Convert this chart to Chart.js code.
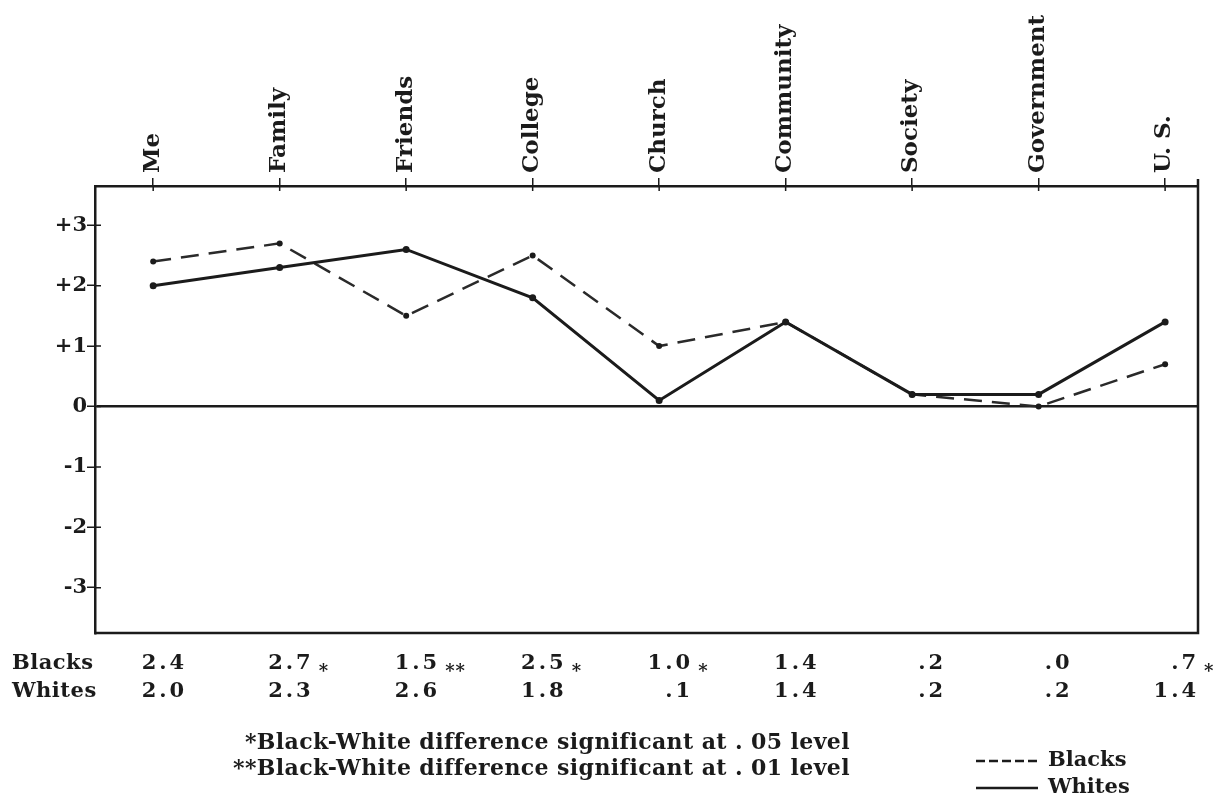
<!DOCTYPE html>
<html>
<head>
<meta charset="utf-8">
<title>Black and White ratings by target</title>
<script src="https://cdn.jsdelivr.net/npm/chart.js@4.4.1/dist/chart.umd.min.js"></script>
<style>
  html, body { margin: 0; padding: 0; background: #fff; }
  #chart { display: block; }
</style>
</head>
<body>
<canvas id="chart" width="1226" height="799"></canvas>
<script>
const categories = ['Me', 'Family', 'Friends', 'College', 'Church', 'Community', 'Society', 'Government', 'U. S.'];
const blacks = [2.4, 2.7, 1.5, 2.5, 1.0, 1.4, 0.2, 0.0, 0.7];
const whites = [2.0, 2.3, 2.6, 1.8, 0.1, 1.4, 0.2, 0.2, 1.4];
const significance = ['', '*', '**', '*', '*', '', '', '', '*'];
const yTicks = [-3, -2, -1, 0, 1, 2, 3];
const footnotes = [
    '*Black-White difference significant at . 05 level',
    '**Black-White difference significant at . 01 level'
];

const INK = '#1b1b1b';
const SERIF = '"DejaVu Serif", serif';

Chart.defaults.font.family = SERIF;
Chart.defaults.color = INK;

// "2.0" -> "2.0", "0.2" -> ".2"
const fmt = (v) => {
    const s = v.toFixed(1);
    return v >= 0 && v < 1 ? s.slice(1) : s;
};

const toPoints = (arr) => arr.map((v, i) => ({ x: i, y: v }));

// Marco, tabla de valores, notas y leyenda
const annotate = {
    id: 'annotate',
    afterDraw(chart) {
        const { ctx, chartArea: a, scales: { x, y } } = chart;
        ctx.save();

        // lado derecho e inferior del marco
        ctx.strokeStyle = INK;
        ctx.lineWidth = 2.5;
        ctx.beginPath();
        ctx.moveTo(a.right, a.top - 7);
        ctx.lineTo(a.right, a.bottom);
        ctx.lineTo(a.left, a.bottom);
        ctx.stroke();

        // mitad interior de las marcas
        ctx.lineWidth = 1.5;
        ctx.beginPath();
        yTicks.forEach(v => {
            const py = y.getPixelForValue(v);
            ctx.moveTo(a.left, py);
            ctx.lineTo(a.left + 6, py);
        });
        categories.forEach((c, i) => {
            const px = x.getPixelForValue(i);
            ctx.moveTo(px, a.top);
            ctx.lineTo(px, a.top + 5);
        });
        ctx.stroke();

        // tabla
        const row1 = a.bottom + 31;
        const row2 = a.bottom + 59;
        ctx.fillStyle = INK;
        ctx.textBaseline = 'middle';
        ctx.font = 'bold 21px ' + SERIF;
        ctx.textAlign = 'left';
        ctx.letterSpacing = '0.5px';
        ctx.fillText('Blacks', 12, row1);
        ctx.fillText('Whites', 12, row2);

        categories.forEach((c, i) => {
            const px = x.getPixelForValue(i) + 34;
            ctx.font = 'bold 21px ' + SERIF;
            ctx.letterSpacing = '3px';
            ctx.textAlign = 'right';
            ctx.fillText(fmt(blacks[i]), px, row1);
            ctx.fillText(fmt(whites[i]), px, row2);
            if (significance[i]) {
                ctx.letterSpacing = '1px';
                ctx.font = 'bold 18px ' + SERIF;
                ctx.textAlign = 'left';
                ctx.fillText(significance[i], px + 5, row1 + 8);
            }
        });

        // notas
        ctx.font = 'bold 22px ' + SERIF;
        ctx.letterSpacing = '0.4px';
        ctx.textAlign = 'right';
        ctx.fillText(footnotes[0], 850, a.bottom + 110);
        ctx.fillText(footnotes[1], 850, a.bottom + 136);
        ctx.letterSpacing = '0px';

        // leyenda
        const lx = 976, lw = 62;
        const ly1 = a.bottom + 128, ly2 = a.bottom + 155;
        ctx.lineWidth = 2.5;
        ctx.setLineDash([9, 4]);
        ctx.beginPath();
        ctx.moveTo(lx, ly1);
        ctx.lineTo(lx + lw, ly1);
        ctx.stroke();
        ctx.setLineDash([]);
        ctx.beginPath();
        ctx.moveTo(lx, ly2);
        ctx.lineTo(lx + lw, ly2);
        ctx.stroke();
        ctx.font = 'bold 21px ' + SERIF;
        ctx.textAlign = 'left';
        ctx.fillText('Blacks', lx + lw + 10, ly1);
        ctx.fillText('Whites', lx + lw + 10, ly2);

        ctx.restore();
    }
};

new Chart(document.getElementById('chart'), {
    type: 'line',
    data: {
        datasets: [
            {
                label: 'Whites',
                data: toPoints(whites),
                borderColor: INK,
                borderWidth: 3,
                pointRadius: 3.5,
                pointBackgroundColor: INK,
                pointBorderWidth: 0,
                tension: 0,
                order: 1
            },
            {
                label: 'Blacks',
                data: toPoints(blacks),
                borderColor: '#2a2a2a',
                borderWidth: 2.5,
                borderDash: [18, 10],
                pointRadius: 3,
                pointBackgroundColor: INK,
                pointBorderWidth: 0,
                tension: 0,
                order: 2
            }
        ]
    },
    options: {
        responsive: false,
        animation: false,
        devicePixelRatio: 1,
        layout: { padding: { top: 0, left: 0, right: 28, bottom: 166 } },
        plugins: {
            legend: { display: false },
            tooltip: { enabled: false }
        },
        scales: {
            x: {
                type: 'linear',
                position: 'top',
                min: -0.46,
                max: 8.26,
                afterBuildTicks: (s) => { s.ticks = categories.map((c, i) => ({ value: i })); },
                afterFit: (s) => { s.height = 186; },
                ticks: {
                    callback: (v, i) => categories[i],
                    minRotation: 90,
                    maxRotation: 90,
                    autoSkip: false,
                    padding: 5,
                    labelOffset: 27,
                    color: INK,
                    font: { size: 23, weight: 'bold' }
                },
                grid: { drawOnChartArea: false, tickLength: 8, color: INK, lineWidth: 1.5 },
                border: { color: INK, width: 2.5 }
            },
            y: {
                min: -3.75,
                max: 3.65,
                afterBuildTicks: (s) => { s.ticks = yTicks.map(v => ({ value: v })); },
                afterFit: (s) => { s.width = 95; },
                ticks: {
                    callback: (v) => (v > 0 ? '+' + v : String(v)),
                    padding: 0,
                    color: INK,
                    font: { size: 21, weight: 'bold' }
                },
                grid: {
                    color: (c) => (c.tick && c.tick.value === 0 ? INK : 'rgba(0,0,0,0)'),
                    lineWidth: 2.5,
                    tickColor: INK,
                    tickWidth: 1.5,
                    tickLength: 8
                },
                border: { color: INK, width: 2.5 }
            }
        }
    },
    plugins: [annotate]
});
</script>
</body>
</html>
